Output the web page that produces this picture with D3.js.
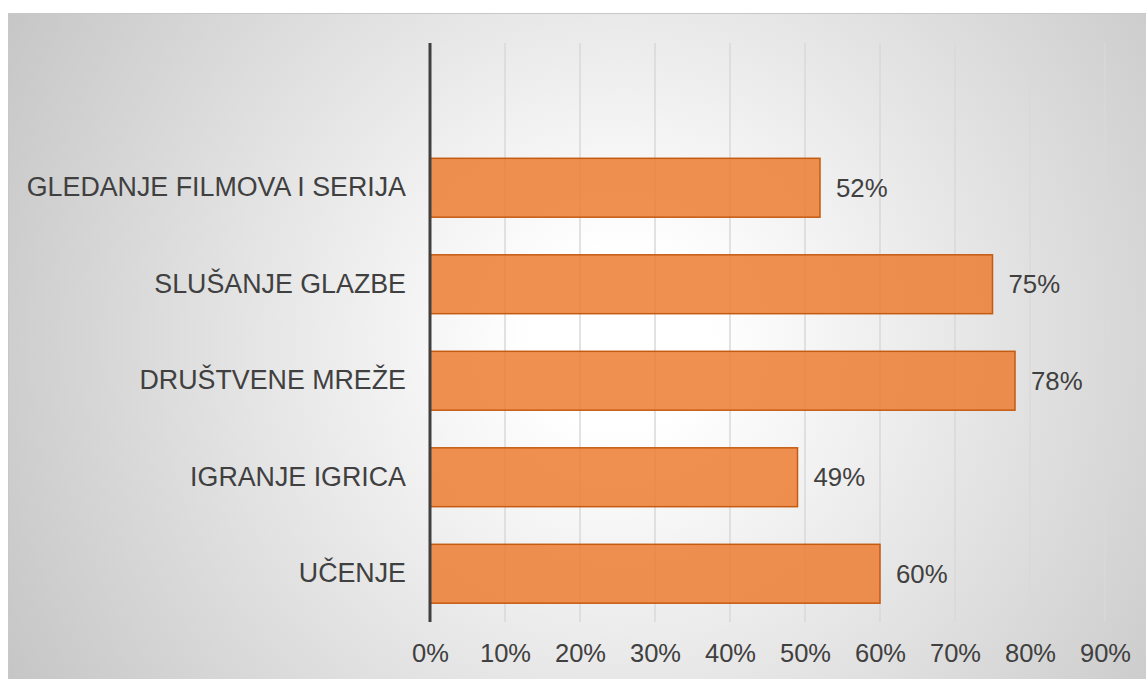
<!DOCTYPE html>
<html>
<head>
<meta charset="utf-8">
<script src="https://cdn.jsdelivr.net/npm/d3@7"></script>
<style>
  body { margin: 0; background: #fff; }
  text { font-family: "Liberation Sans", Arial, sans-serif; }
</style>
</head>
<body>
<div id="chart"></div>
<script>
// data (bottom to top, like the excel category order)
var categories = ["UČENJE", "IGRANJE IGRICA", "DRUŠTVENE MREŽE", "SLUŠANJE GLAZBE", "GLEDANJE FILMOVA I SERIJA"];
var values = [0.60, 0.49, 0.78, 0.75, 0.52];
var ticks = [0, 0.1, 0.2, 0.3, 0.4, 0.5, 0.6, 0.7, 0.8, 0.9];

var width = 1146, height = 679;
var svg = d3.select("#chart").append("svg")
    .attr("width", width)
    .attr("height", height);

// background gradient
var defs = svg.append("defs");
var grad = defs.append("radialGradient")
    .attr("id", "bg")
    .attr("gradientUnits", "userSpaceOnUse")
    .attr("cx", 620).attr("cy", 340).attr("r", 760);
grad.append("stop").attr("offset", "0.12").attr("stop-color", "#ffffff");
grad.append("stop").attr("offset", "1").attr("stop-color", "#c0c0c0");

svg.append("rect")
    .attr("x", 8.5).attr("y", 13.5)
    .attr("width", width).attr("height", height)
    .attr("fill", "url(#bg)")
    .attr("stroke", "#c8c8c8")
    .attr("stroke-width", 1);

var plotLeft = 430, plotRight = 1105, plotTop = 43, plotBottom = 622;

var x = d3.scaleLinear().domain([0, 0.9]).range([plotLeft, plotRight]);
// one empty slot at the top, like in the original
var y = d3.scaleBand()
    .domain(categories.concat([""]))
    .range([plotBottom, plotTop])
    .paddingInner(0.39)
    .paddingOuter(0.195);

// gridlines
svg.append("g")
    .selectAll("line")
    .data(ticks.slice(1))
    .enter()
    .append("line")
    .attr("x1", function(d) { return x(d); })
    .attr("x2", function(d) { return x(d); })
    .attr("y1", plotTop)
    .attr("y2", plotBottom)
    .attr("stroke", "#d9d9d9")
    .attr("stroke-width", 1.5);

// x axis labels
var xAxis = d3.axisBottom(x)
    .tickValues(ticks)
    .tickFormat(d3.format(".0%"))
    .tickSize(0)
    .tickPadding(0);

var gx = svg.append("g")
    .attr("transform", "translate(0," + (plotBottom + 22) + ")")
    .call(xAxis);
gx.select(".domain").remove();
gx.selectAll("text")
    .attr("font-size", "25.5px")
    .attr("fill", "#404040")
    .attr("font-family", "Liberation Sans, Arial, sans-serif");

var data = categories.map(function(c, i) { return { cat: c, val: values[i] }; });

// bars
svg.append("g")
    .selectAll("rect")
    .data(data)
    .enter()
    .append("rect")
    .attr("x", x(0))
    .attr("y", function(d) { return y(d.cat); })
    .attr("width", function(d) { return x(d.val) - x(0); })
    .attr("height", y.bandwidth())
    .attr("fill", "#ed7d31")
    .attr("fill-opacity", 0.85)
    .attr("stroke", "#c55a11")
    .attr("stroke-width", 1.5);

// value labels
svg.append("g")
    .selectAll("text")
    .data(data)
    .enter()
    .append("text")
    .attr("x", function(d) { return x(d.val) + 16; })
    .attr("y", function(d) { return y(d.cat) + y.bandwidth() / 2; })
    .attr("dy", "0.35em")
    .attr("font-size", "25.8px")
    .attr("fill", "#404040")
    .text(function(d) { return d3.format(".0%")(d.val); });

// y axis
var yAxis = d3.axisLeft(y)
    .tickValues(categories)
    .tickSize(0)
    .tickPadding(24);

var gy = svg.append("g")
    .attr("transform", "translate(" + plotLeft + ",0)")
    .call(yAxis);
gy.select(".domain")
    .attr("d", "M0," + plotTop + "V" + plotBottom)
    .attr("stroke", "#404040")
    .attr("stroke-width", 3);
gy.selectAll("text")
    .attr("font-size", "26.8px")
    .attr("fill", "#404040")
    .attr("font-family", "Liberation Sans, Arial, sans-serif");
</script>
</body>
</html>
